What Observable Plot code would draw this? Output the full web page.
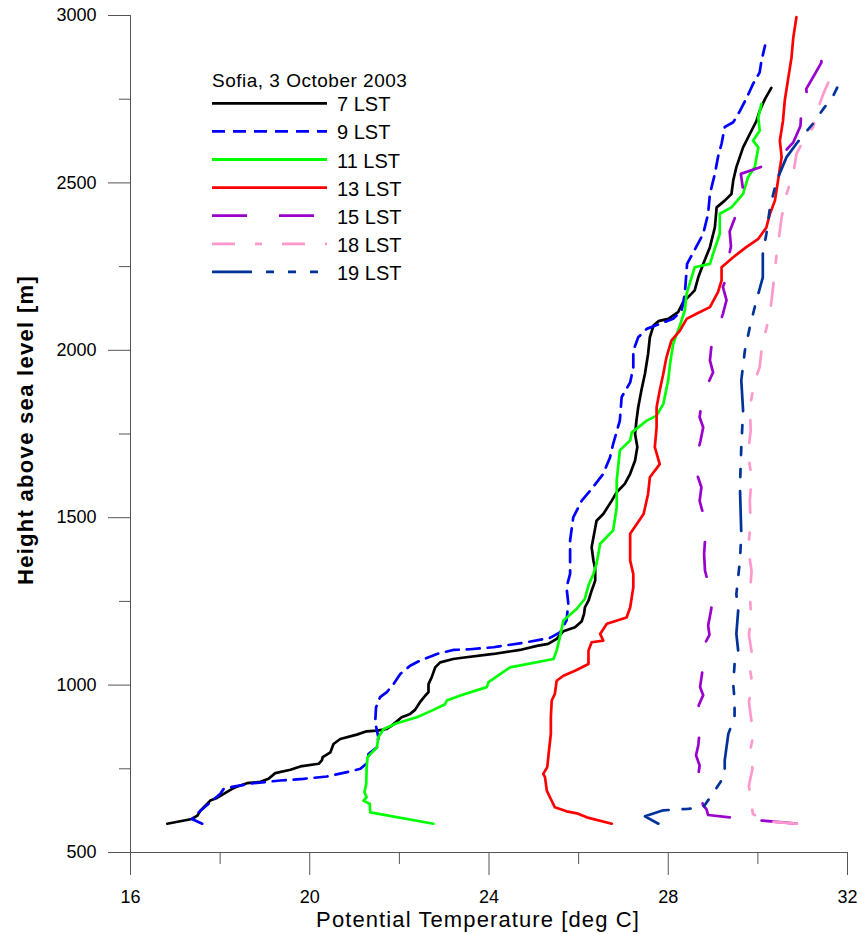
<!DOCTYPE html>
<html><head><meta charset="utf-8">
<script src="https://cdn.jsdelivr.net/npm/d3@7"></script>
<script src="https://cdn.jsdelivr.net/npm/@observablehq/plot@0.6"></script>
<style>
body{margin:0;background:#fff;}
#wrap{position:relative;width:857px;height:934px;font-family:"Liberation Sans",Arial,sans-serif;}
#wrap svg{display:block;}
.ov{position:absolute;left:0;top:0;}
</style></head><body><div id="wrap"></div>
<script>
// ---- tick values ----
const xMajor = [16, 20, 24, 28, 32];
const xMinor = [18, 22, 26, 30];
const yMajor = [500, 1000, 1500, 2000, 2500, 3000];
const yMinor = [750, 1250, 1750, 2250, 2750];

// ---- series labels ----
const legendTitle = "Sofia, 3 October 2003";
const seriesNames = ["7 LST", "9 LST", "11 LST", "13 LST", "15 LST", "18 LST", "19 LST"];

// ---- 7 LST ----
const t07 = [16.82,17.37,17.49,17.56,17.78,17.93,18.08,18.23,18.34,18.60,18.90,19.08,19.23,19.57,19.79,20.20,20.27,20.29,20.46,20.53,20.68,21.05,21.27,21.50,21.72,21.83,22.05,22.24,22.35,22.46,22.58,22.65,22.65,22.72,22.80,22.91,23.20,23.36,24.10,24.69,25.07,25.32,25.51,25.66,25.92,26.07,26.12,26.14,26.22,26.29,26.37,26.37,26.33,26.29,26.40,26.55,26.74,26.85,27.03,27.15,27.26,27.31,27.26,27.29,27.33,27.40,27.48,27.55,27.59,27.67,27.78,28.00,28.22,28.33,28.59,28.67,28.78,28.93,29.04,29.08,29.26,29.41,29.45,29.52,29.67,29.82,29.97,30.04,30.16,30.30];
const h07 = [586,600,610,625,655,663,675,687,695,707,711,720,737,747,757,765,775,785,799,824,839,852,862,864,869,879,904,914,926,949,969,979,1003,1023,1053,1068,1078,1081,1093,1105,1117,1123,1138,1161,1173,1191,1212,1232,1252,1282,1312,1347,1372,1412,1491,1511,1551,1576,1601,1631,1671,1711,1750,1790,1830,1880,1930,1989,2039,2074,2087,2094,2114,2143,2179,2218,2258,2308,2367,2427,2447,2467,2507,2547,2606,2646,2685,2715,2751,2784];

// ---- 9 LST ----
const t09 = [17.60,17.37,17.52,17.78,18.00,18.08,18.30,18.75,19.34,19.86,20.38,20.83,21.13,21.31,21.31,21.50,21.53,21.50,21.46,21.48,21.57,21.72,21.87,22.02,22.24,22.46,22.84,23.20,23.58,24.10,24.84,25.36,25.59,25.73,25.77,25.73,25.81,25.81,25.81,25.88,26.07,26.29,26.55,26.70,26.77,26.92,26.96,27.15,27.22,27.22,27.33,27.52,27.81,28.11,28.30,28.37,28.42,28.56,28.78,28.89,28.93,29.04,29.11,29.19,29.26,29.45,29.60,29.74,29.89,30.04,30.08,30.16];
const h09 = [586,600,620,650,675,690,697,707,715,720,727,740,750,770,794,814,844,864,889,934,964,979,1003,1033,1058,1073,1093,1105,1107,1113,1128,1141,1158,1193,1243,1292,1332,1372,1432,1501,1551,1586,1631,1680,1720,1790,1860,1904,1949,1999,2039,2064,2079,2094,2119,2169,2258,2293,2348,2408,2467,2527,2577,2617,2667,2681,2715,2751,2795,2830,2865,2910];

// ---- 11 LST ----
const t11 = [22.76,21.35,21.34,21.20,21.27,21.22,21.26,21.27,21.29,21.50,21.53,21.65,21.94,22.39,22.76,23.02,23.06,23.36,23.95,23.99,24.47,25.44,25.51,25.59,25.66,25.96,26.14,26.22,26.33,26.40,26.48,26.77,26.85,26.85,26.92,27.15,27.19,27.52,27.74,27.89,28.00,28.04,28.11,28.19,28.26,28.37,28.41,28.59,28.93,29.00,29.15,29.15,29.41,29.67,29.78,29.93,30.01,29.89,30.04,30.01,30.08];
const h11 = [586,620,645,655,665,680,705,755,785,814,844,869,886,904,926,943,954,969,994,1009,1053,1078,1103,1148,1193,1228,1258,1298,1332,1362,1422,1462,1531,1611,1701,1731,1755,1790,1805,1840,1911,1960,2019,2049,2074,2119,2169,2248,2258,2288,2348,2408,2427,2467,2517,2547,2606,2626,2656,2696,2736];

// ---- 13 LST ----
const t13 = [26.74,26.18,25.96,25.73,25.47,25.36,25.29,25.25,25.21,25.30,25.33,25.38,25.38,25.40,25.47,25.51,25.66,25.92,26.22,26.22,26.29,26.55,26.48,26.63,27.07,27.15,27.22,27.22,27.15,27.15,27.45,27.55,27.59,27.81,27.70,27.74,27.74,27.81,27.89,27.96,28.07,28.26,28.41,28.63,28.93,29.11,29.19,29.19,29.45,29.74,30.01,30.19,30.27,30.38,30.45,30.53,30.49,30.56,30.60,30.68,30.75,30.79,30.86];
const h13 = [586,605,617,623,635,665,685,725,735,755,794,854,904,954,974,1013,1028,1043,1063,1103,1128,1133,1153,1183,1202,1232,1292,1332,1372,1452,1511,1571,1621,1660,1711,1770,1830,1880,1930,1979,2029,2059,2094,2109,2129,2174,2209,2248,2278,2308,2333,2367,2408,2447,2507,2577,2626,2685,2746,2815,2874,2934,2995];

// ---- 15 LST ----
const t15 = [30.86,30.11,29.37,28.89,28.85,28.78,28.70,28.67,28.70,28.62,28.67,28.70,28.71,28.68,28.78,28.71,28.76,28.82,28.80,28.92,28.89,28.95,29.00,28.90,28.82,28.80,28.82,28.74,28.78,28.70,28.74,28.64,28.63,28.72,28.78,28.70,28.74,28.85,29.00,28.93,28.96,29.10,29.22,29.30,29.22,29.33,29.33,29.40,29.37,29.50,29.60,29.67,29.62,30.38,30.79,30.95,30.97,31.12,31.08,31.25,31.42,31.38,31.40];
const h15 = [586,595,605,612,630,640,680,730,760,790,820,860,904,940,970,994,1040,1083,1120,1150,1178,1220,1262,1300,1342,1390,1432,1470,1511,1550,1591,1630,1680,1730,1770,1800,1840,1890,1934,1970,2009,2060,2109,2150,2189,2230,2268,2310,2355,2400,2442,2480,2527,2562,2621,2670,2716,2721,2781,2820,2860,2910,2955];

// ---- 18 LST ----
const t18 = [30.86,30.19,29.89,29.85,29.80,29.88,29.82,29.90,29.85,29.80,29.88,29.82,29.86,29.80,29.85,29.82,29.86,29.78,29.84,29.82,29.86,29.78,29.84,29.82,29.93,30.04,30.08,30.16,30.27,30.34,30.42,30.53,30.64,30.79,30.86,31.01,31.23,31.38,31.46,31.64];
const h18 = [586,593,615,650,700,750,800,850,900,950,1000,1050,1100,1150,1200,1272,1340,1412,1480,1551,1620,1691,1760,1830,1910,1949,1999,2049,2109,2189,2288,2397,2467,2527,2586,2626,2666,2736,2766,2821];

// ---- 19 LST ----
const t19 = [27.78,27.48,27.89,28.41,28.78,29.04,29.26,29.26,29.34,29.48,29.48,29.45,29.48,29.56,29.52,29.56,29.52,29.60,29.63,29.60,29.63,29.67,29.63,29.71,29.82,29.93,30.11,30.11,30.19,30.27,30.42,30.64,30.86,31.01,31.23,31.46,31.68,31.79];
const h19 = [586,608,626,630,635,685,730,775,854,904,954,1003,1063,1103,1153,1222,1272,1372,1451,1591,1711,1820,1910,1999,2069,2129,2218,2288,2348,2427,2507,2577,2617,2642,2677,2721,2760,2790];

const seriesT = [t07, t09, t11, t13, t15, t18, t19];
const seriesH = [h07, h09, h11, h13, h15, h18, h19];

// ---- styles ----
const colors = ["#000000", "#0000FF", "#00FF00", "#FF0000", "#9900CC", "#FF99CC", "#003399"];
const dashes = ["none", "13,8", "none", "none", "35,32", "23,20,7,20", "40,14,8,14,8,14,8,14"];

const rows = [];
seriesNames.forEach((s, i) => seriesT[i].forEach((t, j) => rows.push({series: s, t, h: seriesH[i][j]})));

const axisColor = "#555";
const lineMarks = seriesNames.map((s, i) =>
  Plot.line(rows.filter(d => d.series === s), {
    x: "t", y: "h", stroke: colors[i], strokeWidth: 2.7,
    strokeDasharray: dashes[i] === "none" ? undefined : dashes[i],
    strokeLinejoin: "round"
  })
);

const plain = d => String(d);

const chart = Plot.plot({
  width: 857, height: 934,
  marginLeft: 130, marginRight: 10, marginTop: 15, marginBottom: 82,
  style: {fontFamily: '"Liberation Sans", Arial, sans-serif', fontSize: "18px", color: "black", background: "white"},
  x: {domain: [16, 32]},
  y: {domain: [500, 3000]},
  marks: [
    Plot.axisX(xMajor, {tickSize: 23, tickPadding: 15, fontSize: 18, label: null, tickFormat: plain, stroke: axisColor, fill: "black"}),
    Plot.axisX(xMinor, {tickSize: 12, tickFormat: () => "", label: null, stroke: axisColor}),
    Plot.axisY(yMajor, {tickSize: 22, tickPadding: 12, fontSize: 18, label: null, tickFormat: plain, stroke: axisColor, fill: "black"}),
    Plot.axisY(yMinor, {tickSize: 11, tickFormat: () => "", label: null, stroke: axisColor}),
    Plot.ruleX([16], {y1: 500, y2: 3000, stroke: axisColor}),
    Plot.ruleY([500], {x1: 16, x2: 32, stroke: axisColor}),
    ...lineMarks
  ]
});

const wrap = document.getElementById("wrap");
wrap.appendChild(chart);

// ---- overlay: titles and legend ----
const ov = d3.select(wrap).append("svg").attr("class", "ov")
  .attr("width", 857).attr("height", 934)
  .style("font-family", '"Liberation Sans", Arial, sans-serif');

ov.append("text").attr("x", 478).attr("y", 927).attr("text-anchor", "middle")
  .style("font-size", "22px").style("letter-spacing", "1.1px")
  .text("Potential Temperature [deg C]");

ov.append("text").attr("transform", "translate(33,430) rotate(-90)").attr("text-anchor", "middle")
  .style("font-size", "22px").style("font-weight", "bold").style("letter-spacing", "1.3px")
  .text("Height above sea level [m]");

ov.append("text").attr("x", 212).attr("y", 87)
  .style("font-size", "19px").style("letter-spacing", "0.5px")
  .text(legendTitle);

seriesNames.forEach((s, i) => {
  const y = 103.3 + 28.1 * i;
  ov.append("line").attr("x1", 212).attr("x2", 327).attr("y1", y).attr("y2", y)
    .attr("stroke", colors[i]).attr("stroke-width", 2.8)
    .attr("stroke-dasharray", dashes[i] === "none" ? null : dashes[i]);
  ov.append("text").attr("x", 337).attr("y", y + 8)
    .style("font-size", "20px").text(s);
});
</script>
</body></html>
